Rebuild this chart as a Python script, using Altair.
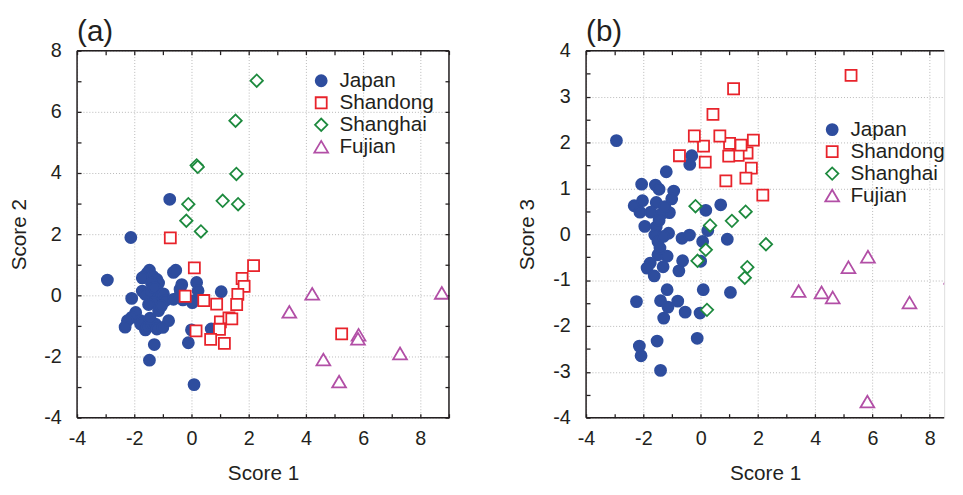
import altair as alt
import pandas as pd

FONT = "Liberation Sans"
TEXT = "#231F20"

regions = ["Japan", "Shandong", "Shanghai", "Fujian"]
stroke_colors = ["#2E4D9E", "#E8232B", "#1D8A3E", "#B24FA6"]
fill_colors = ["#2E4D9E", "white", "white", "white"]
shape_paths = [
    "M-0.8,0A0.8,0.8,0,1,0,0.8,0A0.8,0.8,0,1,0,-0.8,0Z",
    "M-0.8,-0.8H0.8V0.8H-0.8Z",
    "M-0.9,0L0,-0.9L0.9,0L0,0.9Z",
    "M0,-0.85L1,0.85L-1,0.85Z",
]

# ---- Japan (panel a: Score 1 vs Score 2)
japan_a_s1 = [-2.94, -2.12, -0.76, 0.09, -1.47, -1.30, -0.11, 0.00, 0.69, 1.04,
              -1.47, -1.55, -1.68, -1.72, -1.35, -1.21, -1.15, -1.40, -0.63, -0.55,
              -0.34, -0.40, 0.18, 0.23,
              -2.09, -1.72, -1.61, -1.45, -1.30, -1.15, -1.03, -0.98, -0.92, -0.63,
              -0.42, -0.30, 0.06, 0.03, -1.32, -1.50, -1.15, -1.05,
              -1.95, -2.09, -2.24, -2.32, -1.78, -1.78, -1.61, -1.55, -1.40, -1.26,
              -1.21, -1.00, -0.80, -1.45]
japan_a_s2 = [0.50, 1.89, 3.14, -2.92, -2.12, -1.61, -1.55, -1.13, -1.10, 0.12,
              0.82, 0.72, 0.60, 0.57, 0.62, 0.52, 0.40, 0.40, 0.75, 0.82,
              0.35, 0.20, 0.42, 0.15,
              -0.10, 0.14, 0.03, 0.10, 0.25, -0.08, -0.02, 0.05, -0.18, -0.13,
              -0.02, -0.15, -0.18, -0.24, -0.24, -0.30, -0.50, -0.35,
              -0.56, -0.72, -0.83, -1.04, -0.83, -0.94, -1.13, -1.04, -0.95, -0.94,
              -1.10, -1.05, -0.83, -0.75]

# ---- Japan (panel b: Score 1 vs Score 3)
japan_b_s1 = [-2.94, -0.31, -0.38, -1.20, -2.06, -1.58, -1.45, -0.94, -1.01, -2.32,
              -2.03, -1.55, -2.12, -1.74, -1.09, -1.37, 0.18, 0.70, -1.95, -1.55,
              -1.60, -1.12, -1.49, -0.65, -0.39, 0.07, 0.25, 0.93, -1.49, -1.17,
              -1.76, -1.87, -1.31, -1.62, -0.63, -0.76, 0.00, -1.17, 0.09, 1.04,
              -2.24, -1.40, -0.80, -1.14, -0.54, -0.02, -1.29, -2.14, -1.52, -0.12,
              -2.08, -1.40, -1.45, -1.30, -1.42, -1.25]
japan_b_s3 = [2.04, 1.71, 1.52, 1.36, 1.09, 1.07, 0.98, 0.94, 0.77, 0.62,
              0.73, 0.69, 0.48, 0.48, 0.47, 0.44, 0.52, 0.64, 0.17, 0.16,
              -0.02, 0.02, -0.16, -0.09, -0.02, -0.16, 0.08, -0.11, -0.45, -0.48,
              -0.63, -0.74, -0.71, -0.91, -0.58, -0.80, -0.59, -1.21, -1.21, -1.27,
              -1.47, -1.45, -1.46, -1.59, -1.70, -1.72, -1.83, -2.44, -2.33, -2.27,
              -2.65, -2.97, 0.30, -0.05, -0.30, 0.60]

# ---- Shandong
shandong_s1 = [-0.74, 0.10, 2.17, 1.77, 1.84, 1.62, 1.58, -0.22, 0.43, 0.88,
               1.01, 1.31, 1.41, 0.98, 0.16, 0.67, 1.15, 5.25]
shandong_s2 = [1.88, 0.90, 0.97, 0.55, 0.29, 0.03, -0.30, -0.03, -0.17, -0.29,
               -0.87, -0.74, -0.77, -1.11, -1.16, -1.44, -1.57, -1.26]
shandong_s3 = [1.71, 1.92, 0.85, 1.44, 2.05, 1.77, 1.22, 2.14, 2.61, 1.16,
               1.98, 1.72, 1.94, 1.70, 1.57, 2.14, 3.17, 3.46]

# ---- Shanghai
shanghai_s1 = [2.28, 1.54, 1.57, 1.63, 1.09, -0.11, -0.18, 0.33, 0.18, 0.22]
shanghai_s2 = [7.02, 5.71, 3.97, 2.98, 3.09, 2.98, 2.44, 2.09, 4.25, 4.20]
shanghai_s3 = [-0.22, -0.95, 0.49, -0.72, 0.29, -0.58, 0.61, 0.19, -0.34, -1.65]

# ---- Fujian
fujian_s1 = [3.42, 4.22, 4.61, 5.16, 5.84, 5.82, 7.29, 8.75]
fujian_s2 = [-0.54, 0.05, -2.10, -2.82, -1.29, -1.42, -1.90, 0.08]
fujian_s3 = [-1.24, -1.27, -1.38, -0.72, -0.49, -3.65, -1.49, -0.95]


def frame(parts):
    rows = []
    for name, xs, ys in parts:
        for xv, yv in zip(xs, ys):
            rows.append({"x": xv, "y": yv, "region": name})
    return pd.DataFrame(rows)


df_a = frame([("Japan", japan_a_s1, japan_a_s2),
              ("Shandong", shandong_s1, shandong_s2),
              ("Shanghai", shanghai_s1, shanghai_s2),
              ("Fujian", fujian_s1, fujian_s2)])
df_b = frame([("Japan", japan_b_s1, japan_b_s3),
              ("Shandong", shandong_s1, shandong_s3),
              ("Shanghai", shanghai_s1, shanghai_s3),
              ("Fujian", fujian_s1, fujian_s3)])

TICK = dict(tickSize=4, tickColor=TEXT, tickWidth=1.3, offset=-4, domain=False)


def panel(df, letter, ytitle, xdom, ydom, xvals, yvals, xmajor, ymajor,
          width, height, legx, legy, ylabpad, ytitlepad, frame_x, frame_y, right_axis):
    xscale = alt.Scale(domain=xdom, nice=False, zero=False)
    yscale = alt.Scale(domain=ydom, nice=False, zero=False)
    common = dict(labelFont=FONT, labelFontSize=20, labelColor=TEXT,
                  labelFlush=False, labelOverlap=False,
                  titleFont=FONT, titleFontSize=21, titleFontWeight="normal",
                  titleColor=TEXT, gridColor="#b8b8b8", gridDash=[1, 2], gridWidth=1,
                  **TICK)
    x_axis = alt.Axis(values=xvals, title="Score 1",
                      labelExpr=f"{xmajor} ? '' + datum.value : ''", grid=True,
                      gridOpacity={"condition": {"test": xmajor, "value": 1}, "value": 0},
                      labelPadding=11, titlePadding=15, **common)
    y_axis = alt.Axis(values=yvals, title=ytitle,
                      labelExpr=f"{ymajor} ? '' + datum.value : ''", grid=True,
                      gridOpacity={"condition": {"test": ymajor, "value": 1}, "value": 0},
                      labelPadding=ylabpad, titlePadding=ytitlepad, **common)
    leg = alt.Legend(title=None, orient="none", legendX=legx, legendY=legy,
                     labelFont=FONT, labelFontSize=21, labelColor=TEXT,
                     symbolSize=196, symbolStrokeWidth=1.8, rowPadding=0.3,
                     labelOffset=8, padding=0)
    pts = alt.Chart(df).mark_point(filled=False, strokeWidth=1.8, size=196, opacity=1,
                                   clip=True).encode(
        x=alt.X("x:Q", scale=xscale, axis=x_axis),
        y=alt.Y("y:Q", scale=yscale, axis=y_axis),
        stroke=alt.Stroke("region:N", scale=alt.Scale(domain=regions, range=stroke_colors), legend=leg),
        fill=alt.Fill("region:N", scale=alt.Scale(domain=regions, range=fill_colors), legend=leg),
        shape=alt.Shape("region:N", scale=alt.Scale(domain=regions, range=shape_paths), legend=leg),
    )
    y_tr = (alt.Axis(orient="right", values=yvals, labels=False, title=None, grid=False, **TICK)
            if right_axis else None)
    topright = alt.Chart(df).mark_point(opacity=0).encode(
        x=alt.X("x:Q", scale=xscale,
                axis=alt.Axis(orient="top", values=xvals, labels=False, title=None,
                              grid=False, **TICK)),
        y=alt.Y("y:Q", scale=yscale, axis=y_tr),
    )
    vlines = alt.Chart(pd.DataFrame({"v": frame_x})).mark_rule(
        color=TEXT, strokeWidth=1.5).encode(x=alt.X("v:Q", scale=xscale, axis=None))
    hlines = alt.Chart(pd.DataFrame({"v": frame_y})).mark_rule(
        color=TEXT, strokeWidth=1.5).encode(y=alt.Y("v:Q", scale=yscale, axis=None))
    return alt.layer(topright, pts, vlines, hlines).resolve_axis(
        x="independent", y="independent").properties(
        width=width, height=height,
        title=alt.Title(letter, anchor="start", frame="group", fontSize=30, font=FONT,
                        fontWeight="normal", color=TEXT, offset=-6),
    )


pa = panel(df_a, "(a)", "Score 2", [-4, 9], [-4, 8], list(range(-4, 10)), list(range(-4, 9)),
           "datum.value % 2 === 0", "datum.value % 2 === 0",
           377, 372, 237, 20, 16, 14, [-4, 9], [-4, 8], True)
pb = panel(df_b, "(b)", "Score 3", [-4, 8.5], [-4, 4], list(range(-4, 9)),
           [v / 2 for v in range(-8, 9)],
           "datum.value % 2 === 0", "datum.value % 1 === 0",
           363, 372, 239, 69.5, 16, 16, [-4], [-4, 4], False)

chart = alt.hconcat(pa, pb, spacing=65).resolve_scale(
    stroke="independent", fill="independent", shape="independent"
).resolve_legend(
    stroke="independent", fill="independent", shape="independent"
).properties(
    padding={"left": 0, "top": 5, "right": 0, "bottom": -3}
).configure_view(stroke=None).configure(background="white")

chart.save("out.html", embed_options={"renderer": "svg", "actions": False})
